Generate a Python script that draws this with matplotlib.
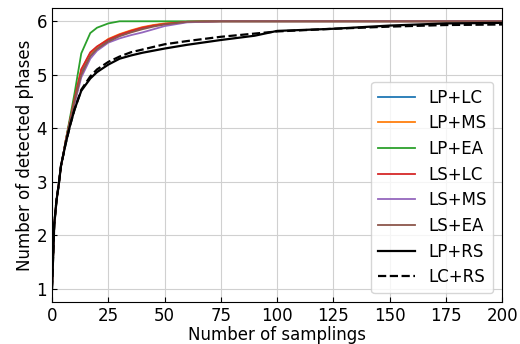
import numpy as np
import matplotlib
matplotlib.use("Agg")
import matplotlib.pyplot as plt

# sampling counts at which the detected-phase counts are recorded
x = [0, 1, 2, 3, 4, 5, 6, 8, 10, 13, 17, 20, 25, 30, 35, 40, 45, 50, 60, 75, 90, 100, 125, 150, 175, 200]

lp_lc = [1, 2.2, 2.65, 2.95, 3.3, 3.5, 3.75, 4.15, 4.55, 5.05, 5.35, 5.5, 5.64, 5.74, 5.81, 5.87, 5.92, 5.95, 5.99, 6.0, 6.0, 6.0, 6.0, 6.0, 6.0, 6.0]
lp_ms = [1, 2.2, 2.65, 2.95, 3.3, 3.5, 3.75, 4.15, 4.55, 5.1, 5.4, 5.52, 5.67, 5.76, 5.83, 5.89, 5.93, 5.96, 5.99, 6.0, 6.0, 6.0, 6.0, 6.0, 6.0, 6.0]
lp_ea = [1, 2.2, 2.65, 2.95, 3.3, 3.5, 3.75, 4.2, 4.65, 5.4, 5.78, 5.88, 5.96, 6.0, 6.0, 6.0, 6.0, 6.0, 6.0, 6.0, 6.0, 6.0, 6.0, 6.0, 6.0, 6.0]
ls_lc = [1, 2.2, 2.65, 2.95, 3.3, 3.5, 3.75, 4.15, 4.55, 5.1, 5.42, 5.53, 5.66, 5.75, 5.82, 5.88, 5.92, 5.95, 5.99, 6.0, 6.0, 6.0, 6.0, 6.0, 6.0, 6.0]
ls_ms = [1, 2.2, 2.65, 2.95, 3.3, 3.5, 3.72, 4.1, 4.45, 4.95, 5.3, 5.45, 5.6, 5.68, 5.74, 5.79, 5.85, 5.91, 5.98, 6.0, 6.0, 6.0, 6.0, 6.0, 6.0, 6.0]
ls_ea = [1, 2.2, 2.65, 2.95, 3.3, 3.5, 3.73, 4.12, 4.5, 5.0, 5.35, 5.48, 5.62, 5.72, 5.79, 5.85, 5.9, 5.94, 5.99, 6.0, 6.0, 6.0, 6.0, 6.0, 6.0, 6.0]
lp_rs = [1, 2.2, 2.65, 2.95, 3.3, 3.5, 3.7, 4.05, 4.35, 4.7, 4.93, 5.05, 5.19, 5.3, 5.36, 5.41, 5.45, 5.49, 5.56, 5.65, 5.73, 5.82, 5.86, 5.92, 5.96, 5.97]
lc_rs = [1, 2.2, 2.65, 2.95, 3.3, 3.5, 3.7, 4.05, 4.35, 4.72, 4.97, 5.1, 5.24, 5.34, 5.42, 5.47, 5.52, 5.57, 5.63, 5.71, 5.77, 5.81, 5.86, 5.9, 5.93, 5.94]

series = [
    ("LP+LC", lp_lc, "#1f77b4", "-"),
    ("LP+MS", lp_ms, "#ff7f0e", "-"),
    ("LP+EA", lp_ea, "#2ca02c", "-"),
    ("LS+LC", ls_lc, "#d62728", "-"),
    ("LS+MS", ls_ms, "#9467bd", "-"),
    ("LS+EA", ls_ea, "#8c564b", "-"),
    ("LP+RS", lp_rs, "black", "-"),
    ("LC+RS", lc_rs, "black", "--"),
]

fig, ax = plt.subplots(figsize=(5.2, 3.44), dpi=100)
for name, vals, col, ls in series:
    lw = 1.6 if col == "black" else 1.3
    ax.plot(x, vals, color=col, linestyle=ls, linewidth=lw, label=name)

ax.set_xlim(0, 200)
ax.set_ylim(0.75, 6.25)
ax.set_xticks([0, 25, 50, 75, 100, 125, 150, 175, 200])
ax.set_yticks([1, 2, 3, 4, 5, 6])
ax.tick_params(direction="in", labelsize=12)
ax.grid(True, color="#d0d0d0", linewidth=0.8)
ax.set_xlabel("Number of samplings", fontsize=12, labelpad=1)
ax.set_ylabel("Number of detected phases", fontsize=12, labelpad=2)
ax.legend(loc="lower right", fontsize=12, handlelength=2.2, labelspacing=0.46,
          borderaxespad=0.55)

fig.subplots_adjust(left=0.1, right=0.966, top=0.977, bottom=0.122)
fig.savefig("out.png", dpi=100)
